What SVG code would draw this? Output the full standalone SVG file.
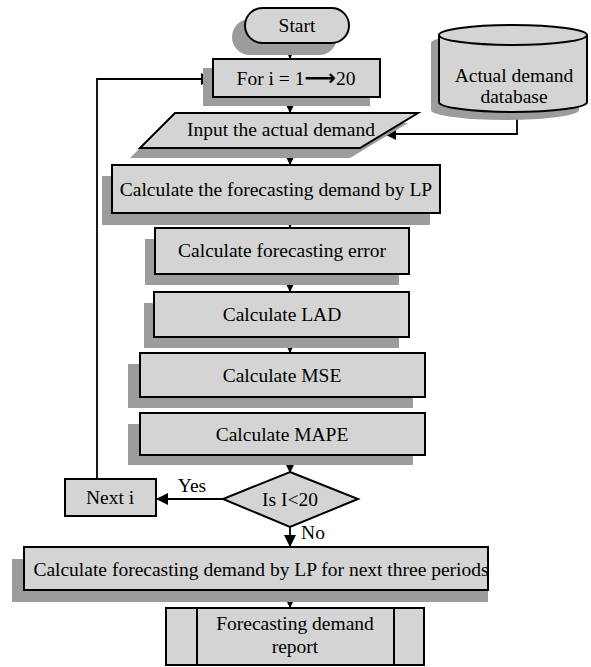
<svg xmlns="http://www.w3.org/2000/svg" width="591" height="667" viewBox="0 0 591 667">
<defs>
<style>
.box{fill:#d4d4d4;stroke:#000;stroke-width:2}
.sh{fill:#9c9c9c;stroke:none}
.t{font-family:"Liberation Serif","Times New Roman",serif;font-size:19.5px;fill:#000;text-anchor:middle}
.c{fill:none;stroke:#000;stroke-width:1.8}
</style>
<marker id="ah" viewBox="0 0 12 12" refX="11" refY="6" markerWidth="12" markerHeight="12" markerUnits="userSpaceOnUse" orient="auto">
<path d="M0,0 L12,6 L0,12 Z" fill="#000"/>
</marker>
</defs>
<rect width="591" height="667" fill="#fff"/>
<g id="connectors">
<line class="c" x1="290" y1="43" x2="290" y2="58" marker-end="url(#ah)"/>
<line class="c" x1="290" y1="97" x2="290" y2="112" marker-end="url(#ah)"/>
<line class="c" x1="290" y1="148" x2="290" y2="164" marker-end="url(#ah)"/>
<line class="c" x1="290" y1="213" x2="290" y2="227" marker-end="url(#ah)"/>
<line class="c" x1="290" y1="274" x2="290" y2="291" marker-end="url(#ah)"/>
<line class="c" x1="290" y1="337" x2="290" y2="352" marker-end="url(#ah)"/>
<line class="c" x1="290" y1="455" x2="290" y2="472" marker-end="url(#ah)"/>
<line class="c" x1="290" y1="527" x2="290" y2="546" marker-end="url(#ah)"/>
<line class="c" x1="290" y1="590" x2="290" y2="607" marker-end="url(#ah)"/>
<polyline class="c" points="517,112 517,134 385,134" marker-end="url(#ah)"/>
<line class="c" x1="223" y1="499" x2="157" y2="499" marker-end="url(#ah)"/>
<polyline class="c" points="97,479 97,79 212,79" marker-end="url(#ah)"/>
<text class="t" x="192" y="492">Yes</text>
<text class="t" x="313" y="539">No</text>
</g>
<g id="start">
<rect class="sh" x="232" y="19" width="105" height="36" rx="18"/>
<rect class="box" x="245" y="8" width="104" height="35" rx="17.5"/>
<text class="t" x="297" y="32">Start</text>
</g>
<g id="for">
<rect class="sh" x="203" y="68" width="167" height="38"/>
<rect class="box" x="213" y="59" width="167" height="38"/>
<text class="t" x="296" y="85">For i = 1<tspan font-family="DejaVu Sans" font-size="22px" font-weight="bold">⟶</tspan>20</text>
</g>
<g id="database">
<path class="sh" d="M431,43 A74,10 0 0 1 579,43 L579,110 A74,10 0 0 1 431,110 Z"/>
<path class="box" d="M439,35 A74,10 0 0 1 587,35 L587,102 A74,10 0 0 1 439,102 Z"/>
<path class="box" d="M439,35 A74,10 0 0 0 587,35" fill="none"/>
<text class="t" x="514" y="82">Actual demand</text>
<text class="t" x="514" y="103">database</text>
</g>
<g id="input">
<polygon class="sh" points="165,123 408,123 350,158 130,158"/>
<polygon class="box" points="175,113 418,113 360,148 140,148"/>
<text class="t" x="281" y="136">Input the actual demand</text>
</g>
<g id="calc-lp">
<rect class="sh" x="102" y="176" width="328" height="49"/>
<rect class="box" x="112" y="165" width="328" height="48"/>
<text class="t" x="276" y="196">Calculate the forecasting demand by LP</text>
</g>
<g id="calc-error">
<rect class="sh" x="145" y="239" width="254" height="46"/>
<rect class="box" x="155" y="228" width="254" height="46"/>
<text class="t" x="282" y="257">Calculate forecasting error</text>
</g>
<g id="calc-lad">
<rect class="sh" x="144" y="303" width="255" height="45"/>
<rect class="box" x="154" y="292" width="255" height="45"/>
<text class="t" x="282" y="321">Calculate LAD</text>
</g>
<g id="calc-mse">
<rect class="sh" x="128" y="364" width="285" height="44"/>
<rect class="box" x="140" y="353" width="285" height="44"/>
<text class="t" x="282" y="382">Calculate MSE</text>
</g>
<g id="calc-mape">
<rect class="sh" x="128" y="424" width="285" height="41"/>
<rect class="box" x="140" y="413" width="285" height="42"/>
<text class="t" x="282" y="441">Calculate MAPE</text>
</g>
<g id="decision">
<polygon class="box" points="290,472 358,499 290,527 223,499"/>
<text class="t" x="290" y="506">Is I&lt;20</text>
</g>
<g id="next-i">
<rect class="box" x="65" y="479" width="91" height="37"/>
<text class="t" x="110" y="504">Next i</text>
</g>
<g id="calc-next">
<rect class="sh" x="12" y="559" width="476" height="43"/>
<rect class="box" x="24" y="547" width="464" height="43"/>
<text class="t" x="261" y="576">Calculate forecasting demand by LP for next three periods</text>
</g>
<g id="report">
<rect class="box" x="166" y="608" width="258" height="57"/>
<line x1="197" y1="608" x2="197" y2="665" stroke="#000" stroke-width="2"/>
<line x1="394" y1="608" x2="394" y2="665" stroke="#000" stroke-width="2"/>
<text class="t" x="295" y="630">Forecasting demand</text>
<text class="t" x="295" y="653">report</text>
</g>
</svg>
